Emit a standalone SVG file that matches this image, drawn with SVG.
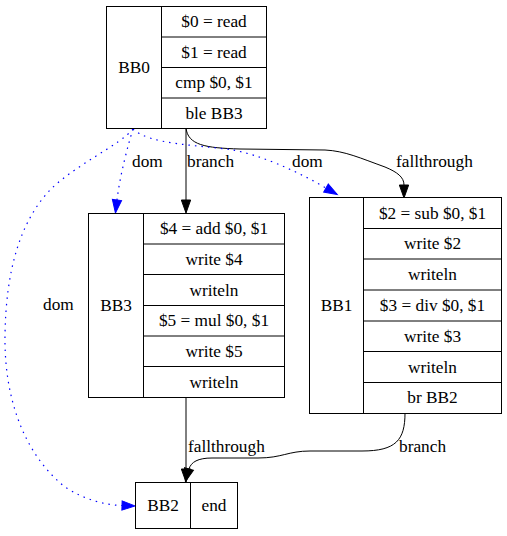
<svg xmlns="http://www.w3.org/2000/svg" width="507" height="536" viewBox="0 0 507 536">
  <style>
    .box { fill: white; stroke: black; stroke-width: 1; }
    .div { stroke: black; stroke-width: 1; fill: none; }
    .c { text-anchor: middle; }
    .edge { fill: none; stroke: black; stroke-width: 1; }
    .dom { fill: none; stroke: blue; stroke-width: 1.2; stroke-dasharray: 1.5 5; }
  </style>
  <defs>
    <marker id="arrow" markerUnits="userSpaceOnUse" markerWidth="14" markerHeight="10" refX="0" refY="4.65" orient="auto" overflow="visible">
      <path d="M0,0 L13,4.65 L0,9.3 Z" fill="black" stroke="black"/>
    </marker>
    <marker id="arrowBlue" markerUnits="userSpaceOnUse" markerWidth="14" markerHeight="10" refX="0" refY="4.65" orient="auto" overflow="visible">
      <path d="M0,0 L13,4.65 L0,9.3 Z" fill="blue" stroke="blue" stroke-dasharray="none"/>
    </marker>
  </defs>

  <g font-family="'Liberation Serif', 'Times New Roman', serif" font-size="17.3" fill="black">
  <!-- connectors -->
  <g id="edges">
    <!-- BB0 -> BB3 branch -->
    <path class="edge" d="M186,128 L186,200" marker-end="url(#arrow)"/>
    <text x="187" y="167">branch</text>
    <!-- BB0 -> BB1 fallthrough -->
    <path class="edge" d="M186,128 C188,145 205,148 240,149 L325,150 C345,151 360,158 385,167 C397,172 404,177 404,185" marker-end="url(#arrow)"/>
    <text x="396" y="167">fallthrough</text>
    <!-- BB3 -> BB2 fallthrough -->
    <path class="edge" d="M186,397 L186,469" marker-end="url(#arrow)"/>
    <text x="188" y="452">fallthrough</text>
    <!-- BB1 -> BB2 branch -->
    <path class="edge" d="M405,413 C405,440 396,451 362,451 L310,451 C288,451 282,458 258,458 L212,458 C198,458 191,462 189,469" marker-end="url(#arrow)"/>
    <text x="399" y="452">branch</text>
    <!-- dominator edges -->
    <path class="dom" d="M133,129 C128,145 120,175 117,200" marker-end="url(#arrowBlue)"/>
    <text x="132" y="167">dom</text>
    <path class="dom" d="M133,129 C150,145 200,145 233,150 C260,155 295,170 326,188" marker-end="url(#arrowBlue)"/>
    <text x="292" y="167">dom</text>
    <path class="dom" d="M133,129 C120,145 75,165 50,190 C20,222 6,270 5,335 C4,400 25,455 65,487 C85,500 105,505 122,505.5" marker-end="url(#arrowBlue)"/>
    <text x="43" y="310">dom</text>
  </g>

  <!-- BB0 -->
  <g id="BB0">
    <rect class="box" x="106.5" y="6.5" width="160" height="122"/>
    <path class="div" d="M161.5,6.5 V128.5 M161.5,37 H266.5 M161.5,67.5 H266.5 M161.5,98 H266.5"/>
    <text class="c" x="134" y="73">BB0</text>
    <text class="c" x="214" y="27">$0 = read</text>
    <text class="c" x="214" y="58">$1 = read</text>
    <text class="c" x="214" y="88">cmp $0, $1</text>
    <text class="c" x="214" y="119">ble BB3</text>
  </g>

  <!-- BB3 -->
  <g id="BB3">
    <rect class="box" x="88.5" y="213.5" width="196" height="184"/>
    <path class="div" d="M143.5,213.5 V397.5 M143.5,244 H284.5 M143.5,274.5 H284.5 M143.5,305.5 H284.5 M143.5,336 H284.5 M143.5,366.5 H284.5"/>
    <text class="c" x="116" y="311">BB3</text>
    <text class="c" x="214" y="234">$4 = add $0, $1</text>
    <text class="c" x="214" y="265">write $4</text>
    <text class="c" x="214" y="296">writeln</text>
    <text class="c" x="214" y="326">$5 = mul $0, $1</text>
    <text class="c" x="214" y="357">write $5</text>
    <text class="c" x="214" y="388">writeln</text>
  </g>

  <!-- BB1 -->
  <g id="BB1">
    <rect class="box" x="309.5" y="197.5" width="192" height="216"/>
    <path class="div" d="M363.5,197.5 V413.5 M363.5,228.5 H501.5 M363.5,259 H501.5 M363.5,290 H501.5 M363.5,321 H501.5 M363.5,351.5 H501.5 M363.5,382.5 H501.5"/>
    <text class="c" x="336.5" y="311">BB1</text>
    <text class="c" x="432.5" y="219">$2 = sub $0, $1</text>
    <text class="c" x="432.5" y="249">write $2</text>
    <text class="c" x="432.5" y="280">writeln</text>
    <text class="c" x="432.5" y="311">$3 = div $0, $1</text>
    <text class="c" x="432.5" y="342">write $3</text>
    <text class="c" x="432.5" y="373">writeln</text>
    <text class="c" x="432.5" y="403">br BB2</text>
  </g>

  <!-- BB2 -->
  <g id="BB2">
    <rect class="box" x="135.5" y="482.5" width="102" height="46"/>
    <path class="div" d="M190.5,482.5 V528.5"/>
    <text class="c" x="163" y="511">BB2</text>
    <text class="c" x="214" y="511">end</text>
  </g>
  </g>
</svg>
